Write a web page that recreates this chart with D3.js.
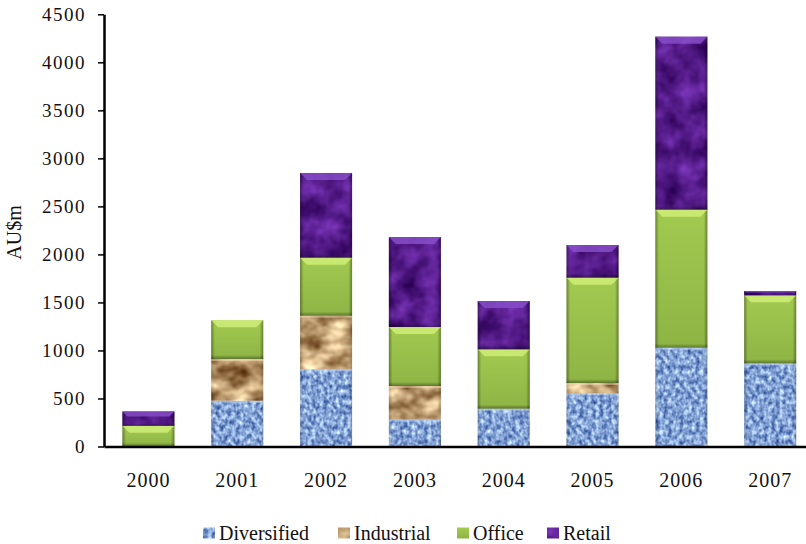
<!DOCTYPE html>
<html><head><meta charset="utf-8">
<script src="https://cdn.jsdelivr.net/npm/d3@7"></script>
<style>
html,body{margin:0;padding:0;background:#fff;}
svg{display:block;}
text{font-family:"Liberation Serif","Times New Roman",serif;}
</style></head>
<body>
<svg id="chart" width="806" height="544"></svg>
<script>
const years = ["2000","2001","2002","2003","2004","2005","2006","2007"];
const diversified = [0, 477, 804, 279, 394, 554, 1029, 866];
const industrial  = [0, 434, 558, 351, 0, 107, 0, 0];
const office      = [215, 403, 604, 614, 618, 1097, 1437, 708];
const retail      = [150, 0, 882, 937, 503, 340, 1801, 45];
const seriesNames = ["Diversified","Industrial","Office","Retail"];
const yTicks = [0,500,1000,1500,2000,2500,3000,3500,4000,4500];
const SERIF = "Liberation Serif";

const svg = d3.select("#chart");
const defs = svg.append("defs");

function texFilter(id, freq, oct, type, dark, light, seed){
  const f = defs.append("filter").attr("id", id)
    .attr("x","-5%").attr("y","-5%").attr("width","110%").attr("height","110%")
    .attr("color-interpolation-filters","sRGB");
  f.append("feTurbulence").attr("type", type).attr("baseFrequency", freq)
    .attr("numOctaves", oct).attr("seed", seed).attr("result","noise");
  const m = [];
  for (let i=0;i<3;i++){
    const diff = light[i]-dark[i];
    const row = [0,0,0,0, dark[i]-0.75*diff];
    row[0] = diff*2.5;
    m.push(row.join(" "));
  }
  m.push("0 0 0 0 1");
  f.append("feColorMatrix").attr("in","noise").attr("type","matrix").attr("values", m.join(" ")).attr("result","col");
  f.append("feComposite").attr("in","col").attr("in2","SourceGraphic").attr("operator","in");
}
const hex = h => { const c = d3.rgb(h); return [c.r/255, c.g/255, c.b/255]; };
texFilter("texDiv", "0.25 0.2", 2, "fractalNoise", hex("#4f70b0"), hex("#b8d4f8"), 3);
texFilter("texInd", "0.04 0.055", 3, "fractalNoise", hex("#7e5830"), hex("#f4d8aa"), 7);
texFilter("texRet", "0.05", 3, "fractalNoise", hex("#3e0c6c"), hex("#6a2aa4"), 11);

const og = defs.append("linearGradient").attr("id","offGrad").attr("x1",0).attr("y1",0).attr("x2",0).attr("y2",1);
og.append("stop").attr("offset","0%").attr("stop-color","#a2ca50");
og.append("stop").attr("offset","100%").attr("stop-color","#8eb445");

const eg = defs.append("linearGradient").attr("id","edgeGrad").attr("x1",0).attr("y1",0).attr("x2",1).attr("y2",0);
[[0,0.35],[0.07,0],[0.93,0],[1,0.35]].forEach(([o,a])=>eg.append("stop").attr("offset",o).attr("stop-color","#000").attr("stop-opacity",a));
const bg = defs.append("linearGradient").attr("id","botGrad").attr("x1",0).attr("y1",0).attr("x2",0).attr("y2",1);
[[0,0],[1,0.35]].forEach(([o,a])=>bg.append("stop").attr("offset",o).attr("stop-color","#000").attr("stop-opacity",a));

const styles = {
  Diversified: {fill:"#84a6dc", filter:"url(#texDiv)", bevel:false, topCol:"#c8defa"},
  Industrial:  {fill:"#d0a878", filter:"url(#texInd)", bevel:false, topCol:"#f4dcb8"},
  Office:      {fill:"url(#offGrad)", filter:null, bevel:true, topCol:"#d2f07a"},
  Retail:      {fill:"#52168a", filter:"url(#texRet)", bevel:true, topCol:"#8a50cc"}
};

const table = years.map((yr,i)=>({year:yr, Diversified:diversified[i], Industrial:industrial[i], Office:office[i], Retail:retail[i]}));
const stacked = d3.stack().keys(seriesNames)(table);

const x = d3.scaleBand().domain(years).range([104, 814.6]).paddingInner(0.414).paddingOuter(0.207);
const y = d3.scaleLinear().domain([0,4500]).range([446.5, 14.3]);

const barsG = svg.append("g");
stacked.forEach(layer=>{
  const st = styles[layer.key];
  layer.forEach(d=>{
    const v = d[1]-d[0];
    if (v <= 0) return;
    const x0 = x(d.data.year), w = x.bandwidth();
    const yTop = y(d[1]), h = y(d[0]) - y(d[1]);
    const g = barsG.append("g");
    g.append("rect").attr("x",x0).attr("y",yTop).attr("width",w).attr("height",h)
      .attr("fill",st.fill).attr("filter",st.filter);
    g.append("rect").attr("x",x0).attr("y",yTop).attr("width",w).attr("height",h).attr("fill","url(#edgeGrad)")
      .attr("opacity", st.bevel?1:0.5);
    if (st.bevel){
      const bh = Math.min(7, h*0.35);
      g.append("path").attr("d",`M${x0},${yTop}L${x0+w},${yTop}L${x0+w-bh},${yTop+bh}L${x0+bh},${yTop+bh}Z`)
        .attr("fill",st.topCol).attr("opacity",0.8);
      const bb = Math.min(4, h*0.2);
      g.append("rect").attr("x",x0).attr("y",yTop+h-bb).attr("width",w).attr("height",bb).attr("fill","url(#botGrad)");
    } else {
      g.append("rect").attr("x",x0).attr("y",yTop).attr("width",w).attr("height",Math.min(2,h)).attr("fill",st.topCol).attr("opacity",0.5);
    }
  });
});

const yAxis = d3.axisLeft(y).tickValues(yTicks).tickFormat(d3.format("d")).tickSizeInner(6).tickSizeOuter(0).tickPadding(12);
const yg = svg.append("g").attr("transform","translate(104,0)").call(yAxis).attr("font-family",SERIF);
yg.select(".domain").attr("stroke","#000").attr("stroke-width",2.5);
yg.selectAll(".tick line").attr("stroke","#000").attr("stroke-width",1.5);
yg.selectAll(".tick text").attr("font-size",19).attr("font-family",SERIF).attr("fill","#111").attr("letter-spacing",1.5);

const xAxis = d3.axisBottom(x).tickSizeInner(0).tickSizeOuter(0).tickPadding(26);
const xg = svg.append("g").attr("transform","translate(0,446.5)").call(xAxis).attr("font-family",SERIF);
xg.select(".domain").attr("stroke","#000").attr("stroke-width",2.5);
xg.selectAll(".tick text").attr("font-size",20).attr("font-family",SERIF).attr("fill","#111").attr("letter-spacing",1);

svg.append("text").attr("transform","translate(21,232.5) rotate(-90)").attr("text-anchor","middle")
  .attr("font-family",SERIF).attr("font-size",20).attr("fill","#111").text("AU$m");

const legendX = [203, 338, 457, 547];
const lg = svg.append("g");
seriesNames.forEach((name,i)=>{
  const st = styles[name];
  lg.append("rect").attr("x",legendX[i]).attr("y",527.5).attr("width",12).attr("height",11)
    .attr("fill",st.fill).attr("filter",st.filter);
  lg.append("text").attr("x",legendX[i]+16).attr("y",540).attr("font-family",SERIF)
    .attr("font-size",20).attr("fill","#111").text(name);
});
</script>
</body></html>
